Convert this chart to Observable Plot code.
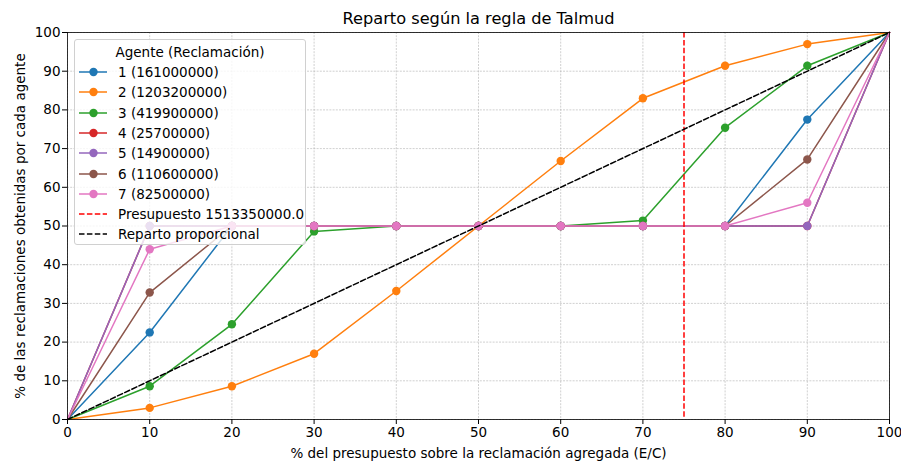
<!DOCTYPE html>
<html>
<head>
<meta charset="utf-8">
<script src="https://cdn.jsdelivr.net/npm/d3@7"></script>
<script src="https://cdn.jsdelivr.net/npm/@observablehq/plot@0.6"></script>
<style>
  body { margin: 0; background: #fff; }
  #wrap { position: relative; width: 901px; height: 465px; font-family: "DejaVu Sans", sans-serif; }
  #legend {
    position: absolute; left: 74px; top: 39px; width: 232px; height: 206px;
    background: rgba(255,255,255,0.8); border: 1px solid #d0d0d0; border-radius: 3px;
    font-size: 13.5px; color: #000; box-sizing: border-box;
  }
  #legend .ttl { position: absolute; left: 0; right: 0; top: 2px; text-align: center; line-height: 20px; }
  #legend .row { position: absolute; left: 4px; height: 20px; display: flex; align-items: center; }
  #legend .row svg { margin-right: 10px; }
</style>
</head>
<body>
<div id="wrap"><div id="chart"></div><div id="legend"></div></div>
<script>
const xs = [0, 10, 20, 30, 40, 50, 60, 70, 80, 90, 100];
const agentLabels = ["1 (161000000)", "2 (1203200000)", "3 (419900000)", "4 (25700000)", "5 (14900000)", "6 (110600000)", "7 (82500000)"];
const colors = ["#1f77b4", "#ff7f0e", "#2ca02c", "#d62728", "#9467bd", "#8c564b", "#e377c2"];
const agent1 = [0, 22.5, 50, 50, 50, 50, 50, 50, 50, 77.5, 100];
const agent2 = [0, 3.0, 8.6, 17.0, 33.2, 50, 66.8, 83.0, 91.4, 97.0, 100];
const agent3 = [0, 8.6, 24.6, 48.6, 50, 50, 50, 51.4, 75.4, 91.4, 100];
const agent4 = [0, 50, 50, 50, 50, 50, 50, 50, 50, 50, 100];
const agent5 = [0, 50, 50, 50, 50, 50, 50, 50, 50, 50, 100];
const agent6 = [0, 32.8, 50, 50, 50, 50, 50, 50, 50, 67.2, 100];
const agent7 = [0, 44.0, 50, 50, 50, 50, 50, 50, 50, 56.0, 100];
const series = [agent1, agent2, agent3, agent4, agent5, agent6, agent7];
const budgetPct = 75;
const proportional = [0, 100];
const ticks = [0, 10, 20, 30, 40, 50, 60, 70, 80, 90, 100];

const marks = [
  Plot.gridX(ticks, {stroke: "#b0b0b0", strokeOpacity: 1, strokeWidth: 0.6, strokeDasharray: "2,1.2"}),
  Plot.gridY(ticks, {stroke: "#b0b0b0", strokeOpacity: 1, strokeWidth: 0.6, strokeDasharray: "2,1.2"})
];
series.forEach((vals, k) => {
  const data = xs.map((x, i) => ({x, y: vals[i], i}));
  marks.push(Plot.line(data, {x: "x", y: "y", stroke: colors[k], strokeWidth: 1.5}));
  marks.push(Plot.dot(data.filter(d => d.i > 0 && d.i < xs.length - 1), {x: "x", y: "y", r: 4.2, fill: colors[k], stroke: "none"}));
});
marks.push(Plot.ruleX([budgetPct], {stroke: "#ff0000", strokeWidth: 1.5, strokeDasharray: "5.5,2.4"}));
marks.push(Plot.line(proportional.map(v => ({x: v, y: v})), {x: "x", y: "y", stroke: "#000", strokeWidth: 1.5, strokeDasharray: "5.5,2.4"}));
marks.push(Plot.frame({stroke: "#000", strokeWidth: 0.8}));
marks.push(Plot.axisX(ticks, {tickSize: 5, tickPadding: 3, label: null, fontSize: 13.5}));
marks.push(Plot.axisY(ticks, {tickSize: 5, tickPadding: 2, label: null, fontSize: 13.5}));
marks.push(Plot.text(["Reparto según la regla de Talmud"], {frameAnchor: "top", lineAnchor: "middle", dy: -14, fontSize: 16.2}));
marks.push(Plot.text(["% del presupuesto sobre la reclamación agregada (E/C)"], {frameAnchor: "bottom", lineAnchor: "middle", dy: 34, fontSize: 13.5}));
marks.push(Plot.text(["% de las reclamaciones obtenidas por cada agente"], {frameAnchor: "left", textAnchor: "middle", lineAnchor: "middle", dx: -47, rotate: -90, fontSize: 13.5}));

const chart = Plot.plot({
  width: 901, height: 465,
  marginLeft: 67, marginRight: 12, marginTop: 32, marginBottom: 46,
  x: {domain: [0, 100]},
  y: {domain: [0, 100]},
  style: {fontFamily: "DejaVu Sans, sans-serif", fontSize: "13.5px", color: "#000", background: "#fff", overflow: "visible"},
  marks
});
document.getElementById("chart").appendChild(chart);

// Legend
const leg = document.getElementById("legend");
const ttl = document.createElement("div");
ttl.className = "ttl"; ttl.textContent = "Agente (Reclamación)";
leg.appendChild(ttl);
const entries = agentLabels.map((l, k) => ({label: l, color: colors[k], dash: null, marker: true}));
entries.push({label: "Presupuesto 1513350000.0", color: "#ff0000", dash: "5.5,2.4", marker: false});
entries.push({label: "Reparto proporcional", color: "#000", dash: "5.5,2.4", marker: false});
entries.forEach((e, i) => {
  const row = document.createElement("div");
  row.className = "row";
  row.style.top = (22 + i * 20.3) + "px";
  const sw = d3.create("svg").attr("width", 29).attr("height", 20);
  sw.append("line").attr("x1", 0).attr("x2", 28).attr("y1", 10).attr("y2", 10)
    .attr("stroke", e.color).attr("stroke-width", 1.5).attr("stroke-dasharray", e.dash);
  if (e.marker) sw.append("circle").attr("cx", 14.5).attr("cy", 10).attr("r", 4.2).attr("fill", e.color);
  row.appendChild(sw.node());
  const t = document.createElement("span");
  t.textContent = e.label;
  row.appendChild(t);
  leg.appendChild(row);
});
</script>
</body>
</html>
